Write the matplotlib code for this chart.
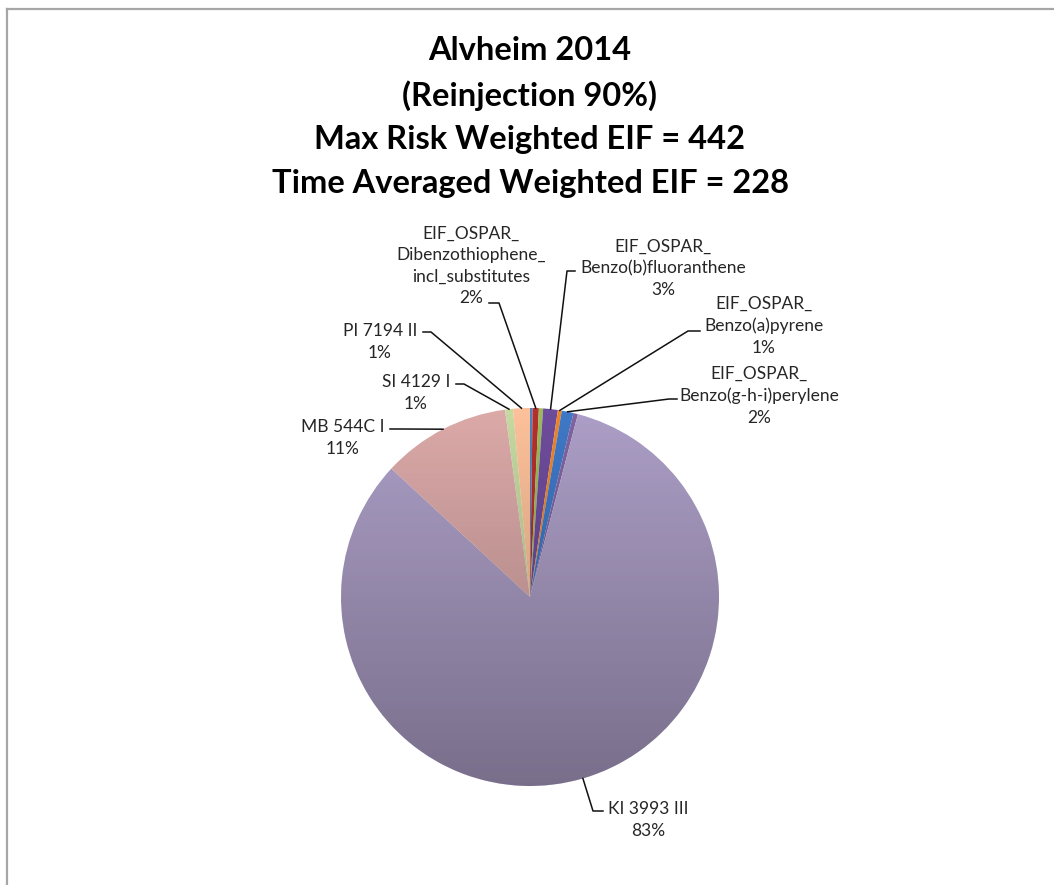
import numpy as np
import matplotlib
matplotlib.use("Agg")
import matplotlib.pyplot as plt
from matplotlib.patches import Circle
from matplotlib.lines import Line2D

# ---------------- data ----------------
categories = [
    "", "EIF_OSPAR_\nDibenzothiophene_\nincl_substitutes", "",
    "EIF_OSPAR_\nBenzo(b)fluoranthene", "EIF_OSPAR_\nBenzo(a)pyrene",
    "EIF_OSPAR_\nBenzo(g-h-i)perylene", "",
    "KI 3993 III", "MB 544C I", "SI 4129 I", "PI 7194 II",
]
values = [0.22, 0.53, 0.36, 1.25, 0.33, 1.00, 0.39, 82.8, 11.0, 0.67, 1.44]
label_pcts = ["", "2%", "", "3%", "1%", "2%", "", "83%", "11%", "1%", "1%"]
colors = ["#4F81BD", "#B3302C", "#9BBB59", "#6E4C9C", "#F08526", "#3F78C6",
          "#8064A2", "#AC9EC6", "#DBA9A8", "#C6D9A0", "#FCC19A"]

title_lines = ["Alvheim 2014", "(Reinjection 90%)",
               "Max Risk Weighted EIF = 442",
               "Time Averaged Weighted EIF = 228"]

# ---------------- layout (image pixel coordinates, y down) ----------------
W, H = 1054, 885
CX, CY, R = 530, 597, 189
# index: (text_x, text_y, leader_start_x, leader_start_y, elbow_x)
label_layout = {
    1: (471, 266, 489, 303, 499),
    3: (663, 268, 575, 271, 567),
    4: (764, 326, 700, 331, 688),
    5: (759, 396, 677, 399, 669),
    7: (648, 820, 603, 811, 593),
    8: (343, 438, 390, 429, 400),
    9: (416, 393, 456, 384, 464),
    10: (380, 342, 423, 332, 431),
}
title_y = [50, 96, 140, 184]

FONT = ["Lato", "DejaVu Sans"]
plt.rcParams["font.family"] = FONT

fig = plt.figure(figsize=(W / 100, H / 100), dpi=100)
ax = fig.add_axes([0, 0, 1, 1])
ax.set_axis_off()

def Y(y):
    return H - y

wedges, _ = ax.pie(values, colors=colors, startangle=90, counterclock=False,
                   center=(CX, Y(CY)), radius=R,
                   wedgeprops=dict(linewidth=0, antialiased=True))

# vertical shading over the pie (lighter top, darker bottom)
grad = np.zeros((256, 1, 4))
grad[..., 3] = np.linspace(0.0, 0.30, 256)[:, None]
im = ax.imshow(grad, extent=(CX - R, CX + R, Y(CY) - R, Y(CY) + R),
               origin="upper", aspect="auto", zorder=3, interpolation="bilinear")
im.set_clip_path(Circle((CX, Y(CY)), R, transform=ax.transData))

ax.set_xlim(0, W)
ax.set_ylim(0, H)
ax.set_aspect("equal")

# labels with leader lines
for i, (tx, ty, sx, sy, ex) in label_layout.items():
    w = wedges[i]
    mid = np.deg2rad((w.theta1 + w.theta2) / 2)
    px = CX + R * np.cos(mid)
    py = Y(CY) + R * np.sin(mid)
    ax.add_line(Line2D([sx, ex, px], [Y(sy), Y(sy), py], color="#111111",
                       lw=1.1, zorder=4))
    ax.text(tx, Y(ty), categories[i] + "\n" + label_pcts[i], ha="center",
            va="center", fontsize=12.5, color="#262626", linespacing=1.42,
            zorder=5)

for t, y in zip(title_lines, title_y):
    fig.text(CX / W, 1 - y / H, t, ha="center", va="center", fontsize=23.5,
             fontweight="bold", color="#000000")

# frame border (top and left visible)
fig.add_artist(Line2D([7 / W, 1], [1 - 9 / H, 1 - 9 / H], transform=fig.transFigure,
                      color="#A6A6A6", lw=1.6))
fig.add_artist(Line2D([7 / W, 7 / W], [0, 1 - 9 / H], transform=fig.transFigure,
                      color="#A6A6A6", lw=1.6))

fig.savefig("out.png", dpi=100, facecolor="white")
